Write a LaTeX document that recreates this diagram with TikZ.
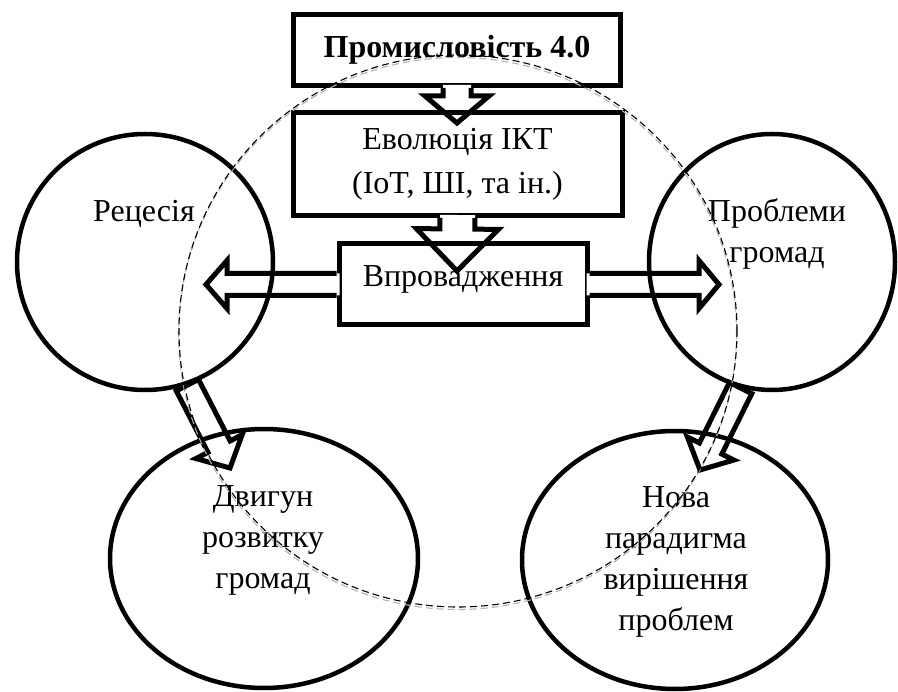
\documentclass[tikz,border=0pt]{standalone}
\usepackage{fontspec}
\setmainfont{Liberation Serif}
\usetikzlibrary{calc,shapes.geometric}
\pgfdeclarelayer{front}
\pgfsetlayers{main,front}

\newcommand{\blockarrow}[6]{% хвіст, вістря, пів стовбура, пів голови, голова, замикання
  \coordinate (ba-t) at (#1);
  \coordinate (ba-p) at (#2);
  \coordinate (ba-h) at ($(ba-p)!#5!(ba-t)$);
  \coordinate (ba-e) at ($(ba-t)!-3pt!(ba-p)$);
  \fill[white] ($(ba-e)!#3!90:(ba-p)$) -- ($(ba-h)!#3!90:(ba-p)$) -- ($(ba-h)!#4!90:(ba-p)$) -- (ba-p)
    -- ($(ba-h)!#4!-90:(ba-p)$) -- ($(ba-h)!#3!-90:(ba-p)$) -- ($(ba-e)!#3!-90:(ba-p)$) -- cycle;
  \draw[arr] ($(ba-t)!#3!90:(ba-p)$) -- ($(ba-h)!#3!90:(ba-p)$) -- ($(ba-h)!#4!90:(ba-p)$) -- (ba-p)
    -- ($(ba-h)!#4!-90:(ba-p)$) -- ($(ba-h)!#3!-90:(ba-p)$) -- ($(ba-t)!#3!-90:(ba-p)$) #6;
}

\begin{document}
\begin{tikzpicture}[x=1pt, y=-1pt, line join=miter, font=\fontsize{32}{41}\selectfont,
  box/.style={draw, line width=5pt, inner sep=0pt, align=center},
  circ/.style={ellipse, draw, line width=4.5pt, inner sep=0pt},
  txt/.style={inner sep=0pt, align=center},
  arr/.style={line width=5pt},
  dashcirc/.style={line width=1.1pt, dash pattern=on 7pt off 4pt}]
	\useasboundingbox (0,0) rectangle (898,692);
	\begin{pgfonlayer}{front}
	\node[circ, minimum width=256pt, minimum height=256pt] (rec) at (145,262) {};
	\node[circ, minimum width=246pt, minimum height=256pt] (prob) at (772,262) {};
	\node[circ, minimum width=308pt, minimum height=259pt] (dvy) at (264,558.5) {};
	\node[circ, minimum width=306pt, minimum height=258pt] (nova) at (675,560) {};
	\node[txt] (rec-t) at (144,214.5) {Рецесія};
	\node[txt] (prob-t) at (777,233.5) {Проблеми\\громад};
	\node[txt] (dvy-t) at (263,540) {Двигун\\розвитку\\громад};
	\node[txt] (nova-t) at (676,562) {Нова\\парадигма\\вирішення\\проблем};
	\draw[dashcirc, gray!60] (457.5,333.5) ellipse [x radius=279pt, y radius=276pt];
	\draw[dashcirc] (458,331) ellipse [x radius=279pt, y radius=276pt];
	\end{pgfonlayer}
	\node[box, minimum width=327pt, minimum height=71pt, font=\fontsize{32}{41}\selectfont\bfseries] (prom) at (457,50) {Промисловість 4.0};
	\coordinate (tip1) at (457,123);
	\blockarrow{prom.south}{tip1}{14pt}{32pt}{27pt}{}
	\node[box, minimum width=329pt, minimum height=103pt] (ikt) at (457.5,164) {Еволюція ІКТ\\[3pt](IoT, ШІ, та ін.)};
	\coordinate (tip2) at (457,271);
	\blockarrow{ikt.south}{tip2}{17.5pt}{41pt}{42pt}{}
	\node[box, minimum width=248pt, minimum height=81pt, text height=21.2pt, text depth=16.2pt] (vpr) at (463,284.5) {Впровадження};
	\coordinate (tipL) at (206,284.5);
	\coordinate (tipR) at (719,284.5);
	\blockarrow{vpr.west}{tipL}{11pt}{24pt}{21pt}{}
	\blockarrow{vpr.east}{tipR}{11pt}{24pt}{20pt}{}
	\coordinate (tipD1) at (230,468);
	\coordinate (tipD2) at (700,470);
	\blockarrow{rec.-71}{tipD1}{12.5pt}{26pt}{24pt}{-- cycle} % ліва
	\blockarrow{prob.-104}{tipD2}{12.5pt}{26pt}{24pt}{-- cycle} % права
\end{tikzpicture}
\end{document}
